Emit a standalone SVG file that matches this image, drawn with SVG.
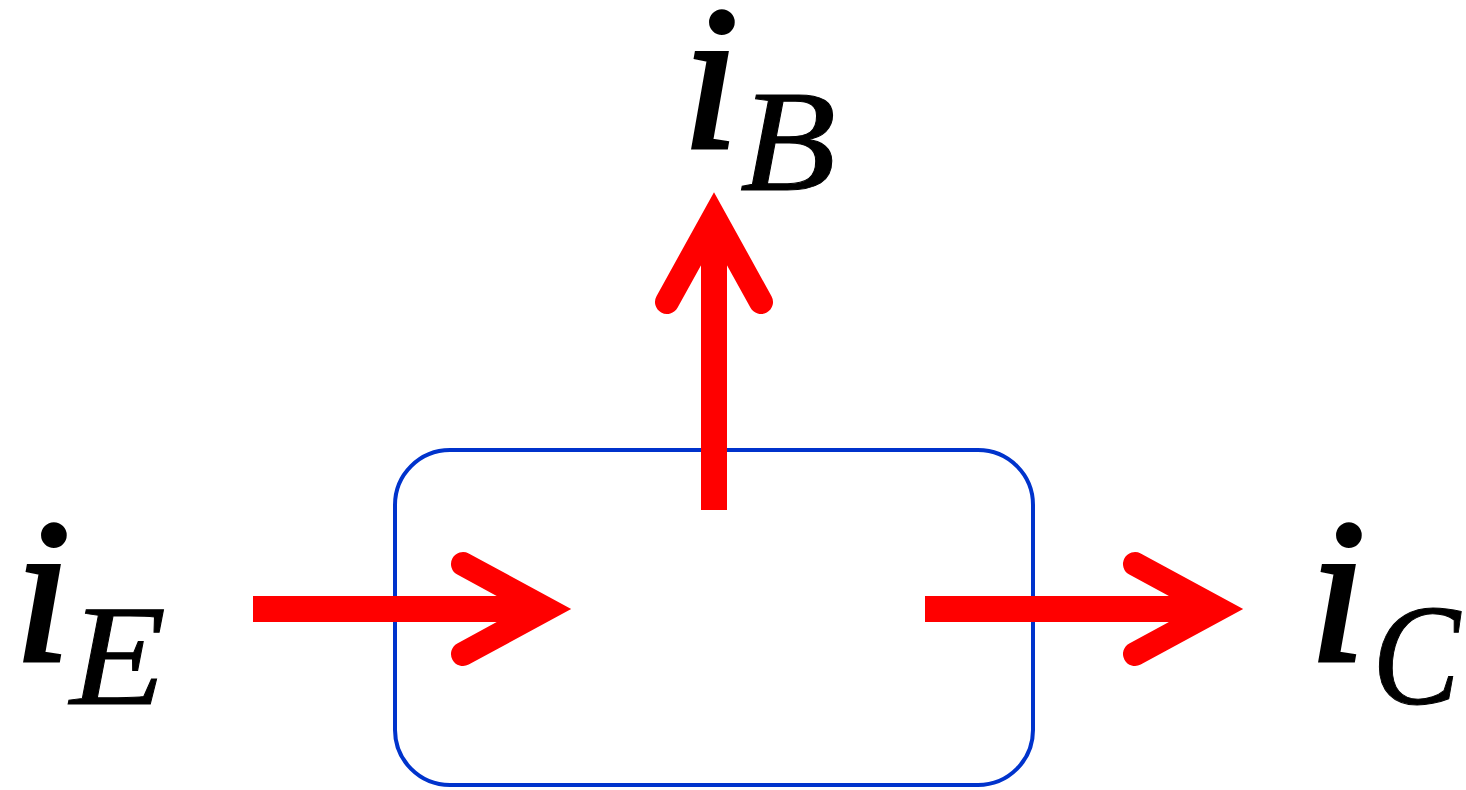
<svg xmlns="http://www.w3.org/2000/svg" width="1466" height="790" viewBox="0 0 1466 790">
<style>
.box{fill:none;stroke:#0033cc;stroke-width:4}
.shaft{stroke:#ff0000;stroke-width:26;fill:none}
.head{stroke:#ff0000;stroke-width:24;fill:none;stroke-linecap:round;stroke-linejoin:miter;stroke-miterlimit:10}
.lbl{font-family:"Liberation Serif",serif;font-style:italic;fill:#000}
.main{font-size:205px;stroke:#000;stroke-width:4}
.sub{font-size:145px;stroke:#000;stroke-width:1}
</style>
<rect width="1466" height="790" fill="#fff"/>
<g id="transistor"><rect class="box" x="395" y="450" width="638" height="335" rx="55" ry="55"/></g>
<g id="connectors">
<line class="shaft" x1="253" y1="609" x2="546" y2="609"/>
<polyline class="head" points="463,564 546,609 463,654"/>
<line class="shaft" x1="925" y1="609" x2="1218" y2="609"/>
<polyline class="head" points="1135,564 1218,609 1135,654"/>
<line class="shaft" x1="714" y1="510" x2="714" y2="217"/>
<polyline class="head" points="667,302 714,217 761,302"/>
</g>
<g id="label-iE"><text class="lbl main" x="14" y="660">i</text><text class="lbl sub" x="70" y="704" textLength="96" lengthAdjust="spacingAndGlyphs">E</text></g>
<g id="label-iB"><text class="lbl main" x="682" y="147">i</text><text class="lbl sub" x="740" y="190" textLength="96" lengthAdjust="spacingAndGlyphs">B</text></g>
<g id="label-iC"><text class="lbl main" x="1309" y="660">i</text><text class="lbl sub" x="1372" y="704" textLength="88" lengthAdjust="spacingAndGlyphs">C</text></g>
</svg>
